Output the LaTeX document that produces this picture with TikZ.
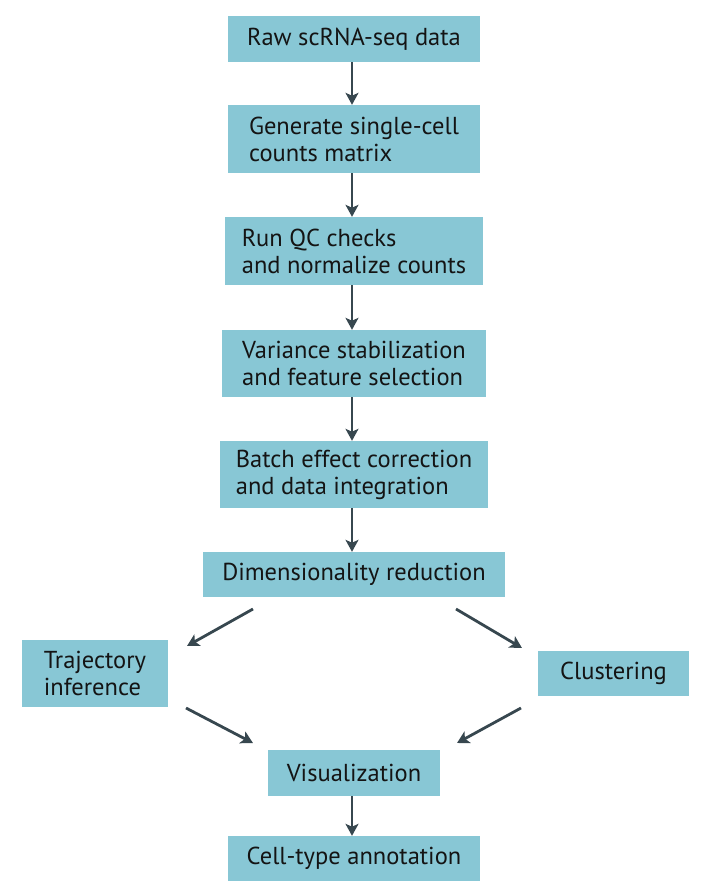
\documentclass[tikz,border=0pt]{standalone}
\usepackage{fontspec}
\setmainfont{PT Sans}
\usetikzlibrary{arrows.meta}
\definecolor{boxfill}{HTML}{88C7D5}
\definecolor{arrowcol}{HTML}{37474F}
\begin{document}
\begin{tikzpicture}[x=1pt,y=-1pt,
  stepbox/.style={fill=boxfill,draw=none,inner sep=0pt,align=left,font=\fontsize{24.5}{27}\selectfont,text=black!92},
  flow/.style={draw=arrowcol,line width=2.8pt,-{Stealth[length=12pt,width=13pt,inset=3pt]}}]
\useasboundingbox (0,0) rectangle (709,891);
\node[stepbox,minimum width=252pt,minimum height=46pt] (b1) at (354,39) {Raw scRNA-seq data};
\node[stepbox,minimum width=252pt,minimum height=68pt] (b2) at (354,139) {Generate single-cell\\counts matrix};
\node[stepbox,minimum width=258pt,minimum height=68pt] (b3) at (354,251) {Run QC checks\\and normalize counts};
\node[stepbox,minimum width=264pt,minimum height=67pt] (b4) at (354,363.5) {Variance stabilization\\and feature selection};
\node[stepbox,minimum width=268pt,minimum height=67pt] (b5) at (354,474.5) {Batch effect correction\\and data integration};
\node[stepbox,minimum width=302pt,minimum height=45pt] (b6) at (354,574.5) {Dimensionality reduction};
\node[stepbox,minimum width=146pt,minimum height=67pt] (b7) at (95,673.5) {Trajectory\\inference};
\node[stepbox,minimum width=151pt,minimum height=45pt] (b8) at (613.5,673.5) {Clustering};
\node[stepbox,minimum width=172pt,minimum height=46pt] (b9) at (354,773) {Visualization};
\node[stepbox,minimum width=252pt,minimum height=45pt] (b10) at (354,858.5) {Cell-type annotation};
\coordinate (a1s) at (253,609); \coordinate (a1e) at (187,646);
\coordinate (a2s) at (456,609); \coordinate (a2e) at (522,648);
\coordinate (a3s) at (186,708); \coordinate (a3e) at (253,743);
\coordinate (a4s) at (521,708); \coordinate (a4e) at (457,743);
\draw[flow] ([xshift=-2pt]b1.south) -- ([xshift=-2pt]b2.north);
\draw[flow] ([xshift=-2pt]b2.south) -- ([xshift=-2pt]b3.north);
\draw[flow] ([xshift=-2pt]b3.south) -- ([xshift=-2pt]b4.north);
\draw[flow] ([xshift=-2pt]b4.south) -- ([xshift=-2pt]b5.north);
\draw[flow] ([xshift=-2pt]b5.south) -- ([xshift=-2pt]b6.north);
\draw[flow] (a1s) -- (a1e);
\draw[flow] (a2s) -- (a2e);
\draw[flow] (a3s) -- (a3e);
\draw[flow] (a4s) -- (a4e);
\draw[flow] ([xshift=-2pt]b9.south) -- ([xshift=-2pt]b10.north);
\end{tikzpicture}
\end{document}
